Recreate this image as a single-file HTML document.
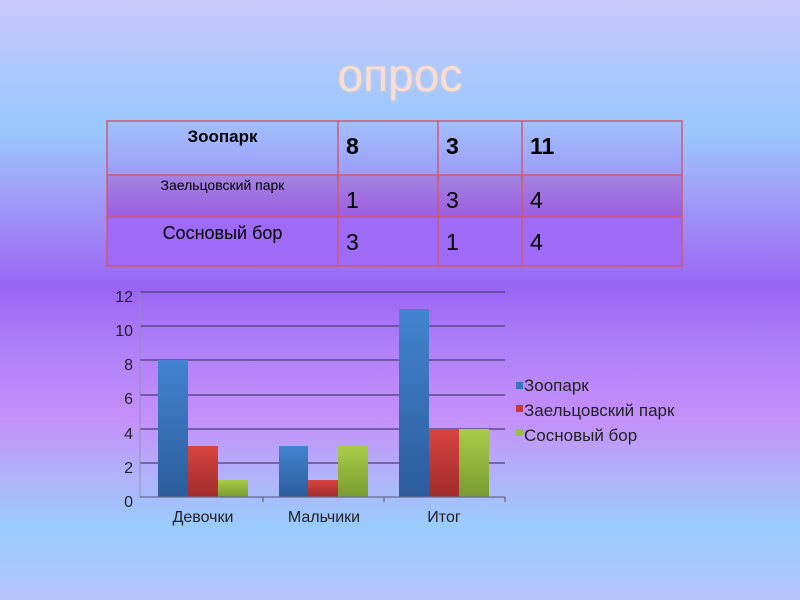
<!DOCTYPE html>
<html><head><meta charset="utf-8"><style>
html,body{margin:0;padding:0}
body{width:800px;height:600px;position:relative;overflow:hidden;
background:linear-gradient(to bottom,#ccc8fc 0%,#b0c8fc 10%,#98c8fc 22%,#a0a0f8 32%,#9a64f4 48%,#b080f8 58%,#c490fa 70%,#b0b4fa 80%,#98ccfc 88%,#b8c4fc 100%);
font-family:"Liberation Sans","DejaVu Sans",sans-serif}
.title{position:absolute;left:0;width:800px;top:48px;text-align:center;font-size:46px;color:#fadcd0;text-shadow:0 0 3px rgba(255,220,200,.6)}
.row{position:absolute;left:107px;width:575px}
.c{position:absolute;white-space:nowrap}
</style></head><body>
<div class="title">опрос</div>
<div class="row" style="top:121px;height:54px;background:linear-gradient(#a2c0fc,#9c9cf8)"></div>
<div class="row" style="top:175px;height:42px;background:linear-gradient(#a484e0,#9c5ce0)"></div>
<div class="row" style="top:217px;height:49px;background:#9e6af6"></div>
<div class="c" style="left:107px;width:231px;top:127px;text-align:center;font-weight:bold;font-size:17px">Зоопарк</div>
<div class="c" style="left:346px;top:133px;font-weight:bold;font-size:23px">8</div>
<div class="c" style="left:446px;top:133px;font-weight:bold;font-size:23px">3</div>
<div class="c" style="left:530px;top:133px;font-weight:bold;font-size:23px">11</div>
<div class="c" style="left:107px;width:231px;top:177px;text-align:center;font-size:14px">Заельцовский парк</div>
<div class="c" style="left:346px;top:187px;font-size:23px">1</div>
<div class="c" style="left:446px;top:187px;font-size:23px">3</div>
<div class="c" style="left:530px;top:187px;font-size:23px">4</div>
<div class="c" style="left:107px;width:231px;top:223px;text-align:center;font-size:18px">Сосновый бор</div>
<div class="c" style="left:346px;top:229px;font-size:23px">3</div>
<div class="c" style="left:446px;top:229px;font-size:23px">1</div>
<div class="c" style="left:530px;top:229px;font-size:23px">4</div>
<svg width="800" height="600" style="position:absolute;left:0;top:0" font-family="Liberation Sans, DejaVu Sans, sans-serif">
<defs>
<linearGradient id="b" x1="0" x2="0" y1="0" y2="1"><stop offset="0" stop-color="#4284d0"/><stop offset="1" stop-color="#2c5c9c"/></linearGradient>
<linearGradient id="r" x1="0" x2="0" y1="0" y2="1"><stop offset="0" stop-color="#d84440"/><stop offset="1" stop-color="#a02c2c"/></linearGradient>
<linearGradient id="g" x1="0" x2="0" y1="0" y2="1"><stop offset="0" stop-color="#a8cc48"/><stop offset="1" stop-color="#789c30"/></linearGradient>
</defs>
<g stroke="#d05870" stroke-width="1.5" fill="none">
<rect x="107" y="121" width="575" height="145"/>
<line x1="107" x2="682" y1="175" y2="175"/><line x1="107" x2="682" y1="217" y2="217"/>
<line x1="338" x2="338" y1="121" y2="266"/><line x1="438" x2="438" y1="121" y2="266"/><line x1="522" x2="522" y1="121" y2="266"/>
</g>
<g stroke="#4a3c78" stroke-width="1.3">
<line x1="140" x2="505" y1="292" y2="292"/><line x1="140" x2="505" y1="326" y2="326"/>
<line x1="140" x2="505" y1="360" y2="360"/><line x1="140" x2="505" y1="395" y2="395"/>
<line x1="140" x2="505" y1="429" y2="429"/><line x1="140" x2="505" y1="463" y2="463"/>
</g>
<line x1="140" x2="140" y1="292" y2="497" stroke="#9090b0"/>
<g>
<rect x="158" y="360" width="30" height="137" fill="url(#b)"/>
<rect x="188" y="446" width="30" height="51" fill="url(#r)"/>
<rect x="218" y="480" width="30" height="17" fill="url(#g)"/>
<rect x="279" y="446" width="29" height="51" fill="url(#b)"/>
<rect x="308" y="480" width="30" height="17" fill="url(#r)"/>
<rect x="338" y="446" width="30" height="51" fill="url(#g)"/>
<rect x="399" y="309" width="30" height="188" fill="url(#b)"/>
<rect x="429" y="429" width="30" height="68" fill="url(#r)"/>
<rect x="459" y="429" width="30" height="68" fill="url(#g)"/>
</g>
<g stroke="#6a6a8a" stroke-width="1.3">
<line x1="140" x2="505" y1="497" y2="497"/>
<line x1="263" x2="263" y1="497" y2="502"/><line x1="384" x2="384" y1="497" y2="502"/><line x1="505" x2="505" y1="497" y2="502"/>
</g>
<g font-size="16" fill="#222" text-anchor="end">
<text x="133" y="302">12</text><text x="133" y="336">10</text><text x="133" y="370">8</text>
<text x="133" y="404">6</text><text x="133" y="439">4</text><text x="133" y="473">2</text><text x="133" y="507">0</text>
</g>
<g font-size="16" fill="#222" text-anchor="middle">
<text x="203" y="522">Девочки</text><text x="324" y="522">Мальчики</text><text x="444" y="522">Итог</text>
</g>
<rect x="516" y="382" width="7" height="7" fill="#3a74c0"/>
<rect x="516" y="405" width="7" height="7" fill="#c83a36"/>
<rect x="516" y="429" width="7" height="7" fill="#98c040"/>
<g font-size="17" fill="#222">
<text x="524" y="391">Зоопарк</text><text x="524" y="416">Заельцовский парк</text><text x="524" y="441">Сосновый бор</text>
</g>
</svg>
</body></html>
